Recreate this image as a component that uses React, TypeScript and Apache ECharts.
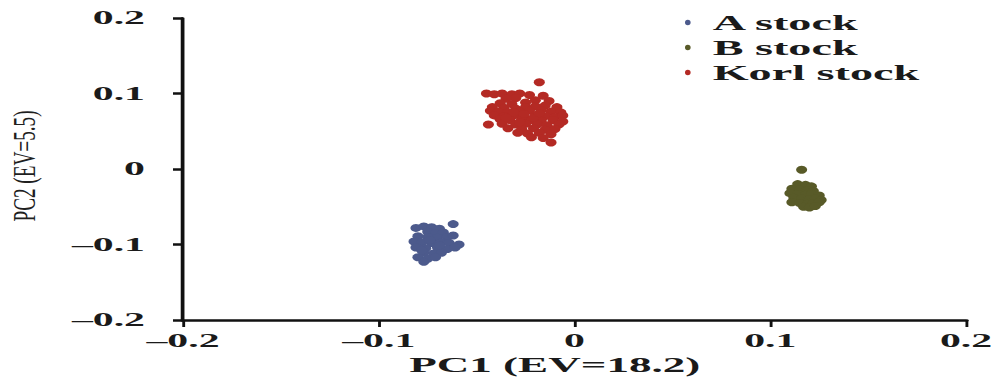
import React, { useEffect, useRef } from "react";
import * as echarts from "echarts";

const seriesNames = ["A stock", "B stock", "Korl stock"];
const seriesColors = ["#4c5a8c", "#585a28", "#b42a24"];
const xTicks = [-0.2, -0.1, 0, 0.1, 0.2];
const yTicks = [-0.2, -0.1, 0, 0.1, 0.2];
const xTitle = "PC1 (EV=18.2)";
const yTitle = "PC2 (EV=5.5)";

const aStock = [
  [-0.081, -0.078], [-0.077, -0.076], [-0.073, -0.077], [-0.069, -0.079], [-0.062, -0.073],
  [-0.075, -0.083], [-0.071, -0.085], [-0.067, -0.084],
  [-0.080, -0.089], [-0.075, -0.090], [-0.070, -0.091], [-0.065, -0.090], [-0.062, -0.088],
  [-0.082, -0.096], [-0.078, -0.097], [-0.073, -0.098], [-0.068, -0.097], [-0.064, -0.098], [-0.059, -0.100],
  [-0.081, -0.104], [-0.076, -0.105], [-0.070, -0.104], [-0.065, -0.106], [-0.061, -0.104],
  [-0.077, -0.111], [-0.072, -0.112], [-0.068, -0.111],
  [-0.080, -0.117], [-0.075, -0.119], [-0.071, -0.117], [-0.077, -0.123],
  [-0.074, -0.094], [-0.069, -0.101], [-0.078, -0.108],
];

const bStock = [
  [0.116, -0.001],
  [0.114, -0.020], [0.118, -0.021], [0.121, -0.023],
  [0.111, -0.026], [0.115, -0.027], [0.119, -0.028], [0.122, -0.029],
  [0.110, -0.032], [0.114, -0.033], [0.118, -0.034], [0.121, -0.033], [0.125, -0.035],
  [0.112, -0.038], [0.116, -0.039], [0.120, -0.040], [0.123, -0.039], [0.126, -0.041],
  [0.111, -0.044], [0.115, -0.045], [0.119, -0.046], [0.122, -0.045], [0.125, -0.044],
  [0.117, -0.050], [0.120, -0.051], [0.123, -0.049],
];

const korlStock = [
  [-0.018, 0.115],
  [-0.045, 0.100], [-0.041, 0.099], [-0.037, 0.100], [-0.032, 0.099], [-0.028, 0.100], [-0.023, 0.098],
  [-0.016, 0.097], [-0.030, 0.094], [-0.035, 0.093],
  [-0.013, 0.090], [-0.020, 0.091], [-0.025, 0.088], [-0.038, 0.087], [-0.032, 0.086],
  [-0.042, 0.082], [-0.036, 0.081], [-0.030, 0.080], [-0.025, 0.082], [-0.020, 0.083], [-0.015, 0.084], [-0.009, 0.082],
  [-0.043, 0.077], [-0.039, 0.076], [-0.034, 0.075], [-0.028, 0.076], [-0.023, 0.077], [-0.017, 0.078], [-0.012, 0.076], [-0.007, 0.075],
  [-0.041, 0.071], [-0.036, 0.070], [-0.031, 0.071], [-0.026, 0.070], [-0.020, 0.071], [-0.015, 0.070], [-0.010, 0.069], [-0.006, 0.071],
  [-0.038, 0.066], [-0.033, 0.065], [-0.027, 0.066], [-0.022, 0.065], [-0.017, 0.064], [-0.011, 0.065], [-0.006, 0.063],
  [-0.044, 0.059], [-0.037, 0.060], [-0.030, 0.059], [-0.025, 0.060], [-0.019, 0.059], [-0.014, 0.058], [-0.008, 0.059],
  [-0.034, 0.054], [-0.027, 0.053], [-0.021, 0.054], [-0.015, 0.052], [-0.010, 0.053],
  [-0.029, 0.048], [-0.024, 0.047], [-0.018, 0.048], [-0.012, 0.046],
  [-0.022, 0.042], [-0.016, 0.041],
  [-0.012, 0.035],
  [-0.031, 0.075], [-0.026, 0.073], [-0.021, 0.068], [-0.028, 0.062], [-0.035, 0.068], [-0.018, 0.074],
];

const seriesData = [aStock, bStock, korlStock];

const S = 2.2;
const W = 998 / S;
const H = 381;
const FONT = "'Liberation Serif', 'Times New Roman', serif";
const ELLIPSE = "path://M5,0 A5,11 0 1,1 5,22 A5,11 0 1,1 5,0 Z";

const fmt = (v: number) => (v < 0 ? "\u2013" + String(-v) : String(v));

export default function App() {
  const ref = useRef<HTMLDivElement>(null);
  useEffect(() => {
    if (!ref.current) return;
    const chart = echarts.init(ref.current, undefined, { renderer: "svg" });
    chart.setOption({
      animation: false,
      backgroundColor: "#ffffff",
      grid: { left: 183 / S, right: W - 976 / S, top: 18, bottom: H - 320 },
      legend: {
        orient: "vertical",
        left: 674 / S,
        top: 7,
        itemWidth: 2.6,
        itemHeight: 5.6,
        itemGap: 4,
        icon: ELLIPSE,
        data: seriesNames,
        textStyle: {
          fontFamily: FONT,
          fontWeight: "bold",
          fontSize: 21,
          lineHeight: 20,
          color: "#1a1a1a",
          padding: [0, 0, 0, 5],
        },
      },
      xAxis: {
        type: "value",
        min: xTicks[0],
        max: xTicks[xTicks.length - 1],
        interval: 0.1,
        splitLine: { show: false },
        axisLine: { onZero: false, lineStyle: { color: "#111", width: 2.5 } },
        axisTick: { show: true, inside: false, length: 7, lineStyle: { color: "#111", width: 1.3 } },
        axisLabel: {
          formatter: fmt,
          margin: 11,
          fontFamily: FONT,
          fontWeight: "bold",
          fontSize: 19,
          color: "#1a1a1a",
        },
        name: xTitle,
        nameLocation: "middle",
        nameGap: 34,
        nameTextStyle: {
          fontFamily: FONT,
          fontWeight: "bold",
          fontSize: 20.5,
          color: "#1a1a1a",
          padding: [0, 18, 0, 0],
        },
      },
      yAxis: {
        type: "value",
        min: yTicks[0],
        max: yTicks[yTicks.length - 1],
        interval: 0.1,
        splitLine: { show: false },
        axisLine: { onZero: false, lineStyle: { color: "#111", width: 1.7 } },
        axisTick: { show: true, inside: false, length: 10 / S, lineStyle: { color: "#111", width: 2.5 } },
        axisLabel: {
          formatter: fmt,
          margin: 38 / S,
          fontFamily: FONT,
          fontWeight: "bold",
          fontSize: 19,
          color: "#1a1a1a",
        },
      },
      graphic: [
        {
          type: "text",
          x: 25 / S,
          y: 166,
          rotation: Math.PI / 2,
          scaleX: 0.96,
          scaleY: 0.72,
          style: {
            text: yTitle,
            fontFamily: FONT,
            fontSize: 20,
            fill: "#1f1f1f",
            align: "center",
            verticalAlign: "middle",
          },
        },
      ],
      series: seriesNames.map((name, i) => ({
        name,
        type: "scatter",
        data: seriesData[i],
        symbol: "circle",
        symbolSize: [11 / S, 8],
        itemStyle: { color: seriesColors[i], opacity: 1 },
      })),
    });
    return () => chart.dispose();
  }, []);
  return (
    <div
      ref={ref}
      style={{
        position: "fixed",
        left: 0,
        top: 0,
        width: W,
        height: H,
        transform: `scaleX(${S})`,
        transformOrigin: "0 0",
      }}
    />
  );
}
